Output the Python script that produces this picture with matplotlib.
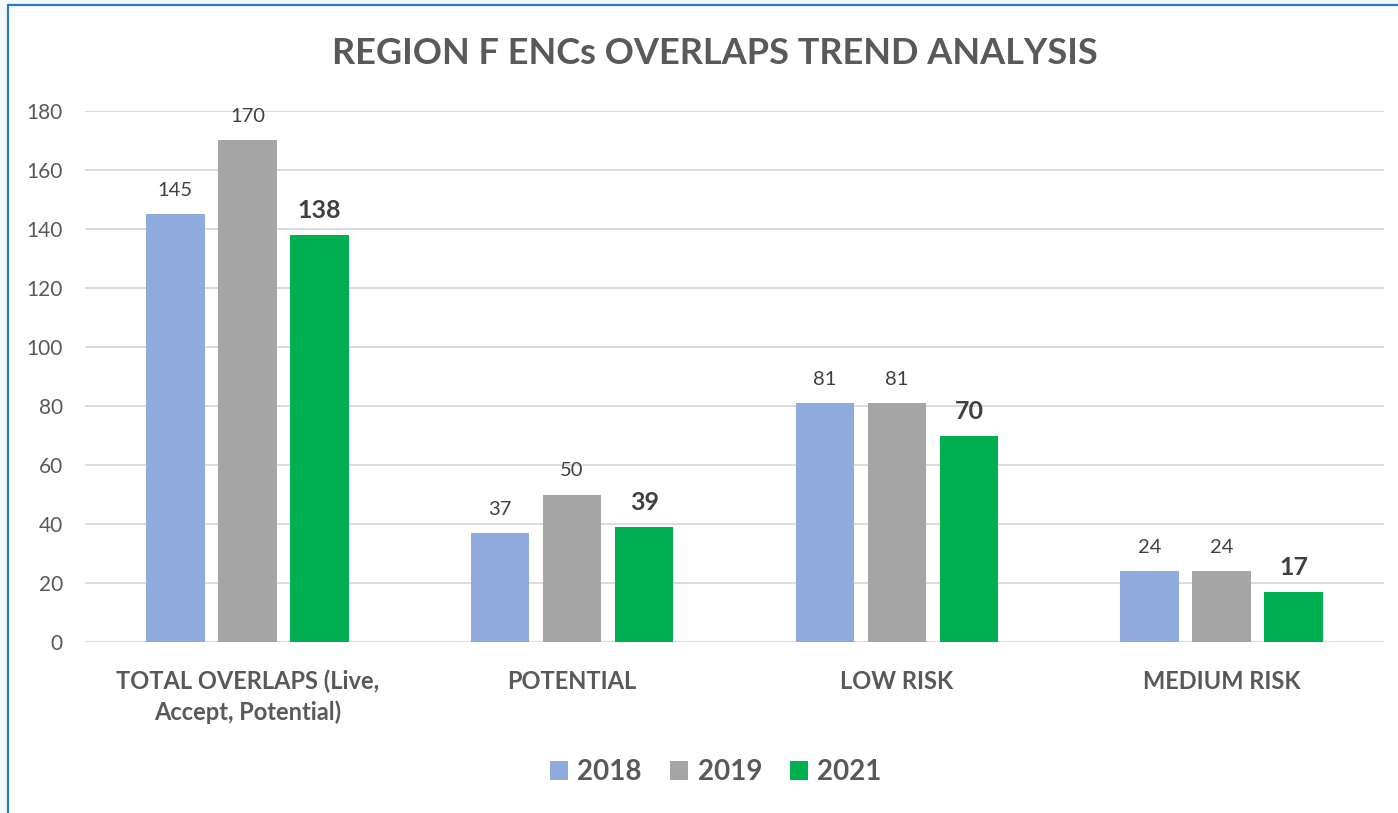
import numpy as np
import matplotlib
matplotlib.use("Agg")
import matplotlib.pyplot as plt
import matplotlib.patches as mpatches

# ── data ────────────────────────────────────────────────────────────────────
categories = ["TOTAL OVERLAPS (Live,\nAccept, Potential)", "POTENTIAL",
              "LOW RISK", "MEDIUM RISK"]
years = ["2018", "2019", "2021"]
v2018 = [145, 37, 81, 24]
v2019 = [170, 50, 81, 24]
v2021 = [138, 39, 70, 17]

colors = ["#8FAADC", "#A5A5A5", "#00B050"]
TXT = "#595959"
FONT = ["Lato", "DejaVu Sans"]
plt.rcParams["font.family"] = FONT

fig = plt.figure(figsize=(13.98, 8.13), dpi=100)
fig.patch.set_facecolor("#F4F7FB")

# chart area box (white with blue border, runs off right/bottom)
box = mpatches.Rectangle((8 / 1398, -0.1), 1.2, 1 - 5 / 813 + 0.1,
                         transform=fig.transFigure, facecolor="white",
                         edgecolor="#2F78C4", linewidth=1.6, zorder=-5)
fig.patches.append(box)

ax = fig.add_axes([85 / 1398, 1 - 642 / 813, (1384 - 85) / 1398, (642 - 111) / 813])
ax.set_facecolor("none")
ax.set_zorder(2)

x = np.arange(len(categories))
w = 0.18
step = 0.222
series = [v2018, v2019, v2021]
for i, (vals, c, yr) in enumerate(zip(series, colors, years)):
    bars = ax.bar(x + (i - 1) * step, vals, width=w, color=c, label=yr, zorder=3)
    bold = (yr == "2021")
    for b, v in zip(bars, vals):
        ax.annotate(str(v), (b.get_x() + b.get_width() / 2, v),
                    xytext=(0, 9 if bold else 11), textcoords="offset points",
                    ha="center", va="bottom", color="#404040",
                    fontsize=18 if bold else 14.5,
                    fontweight="bold" if bold else "normal")

ax.set_xlim(-0.5, 3.5)
ax.set_ylim(0, 180)
ax.set_yticks(range(0, 181, 20))
ax.grid(axis="y", color="#D9D9D9", linewidth=1.3, zorder=0)
for s in ax.spines.values():
    s.set_visible(False)
ax.tick_params(axis="both", length=0, colors=TXT)
ax.tick_params(axis="y", labelsize=15, pad=16)
ax.set_xticks(x)
ax.set_xticklabels(categories, fontsize=17, fontweight="bold", color=TXT,
                   linespacing=1.35)
ax.tick_params(axis="x", pad=20)

fig.text(0.5115, 1 - 53 / 813, "REGION F ENCs OVERLAPS TREND ANALYSIS",
         ha="center", va="center", fontsize=26, fontweight="bold", color=TXT)

leg = fig.legend(loc="center", bbox_to_anchor=(0.512, 1 - 772 / 813), ncol=3,
                 frameon=False, prop={"size": 20, "weight": "bold"},
                 handlelength=0.65, handleheight=0.65, handletextpad=0.35,
                 columnspacing=1.0)
for t in leg.get_texts():
    t.set_color(TXT)

fig.savefig("out.png", dpi=100, facecolor=fig.get_facecolor())
